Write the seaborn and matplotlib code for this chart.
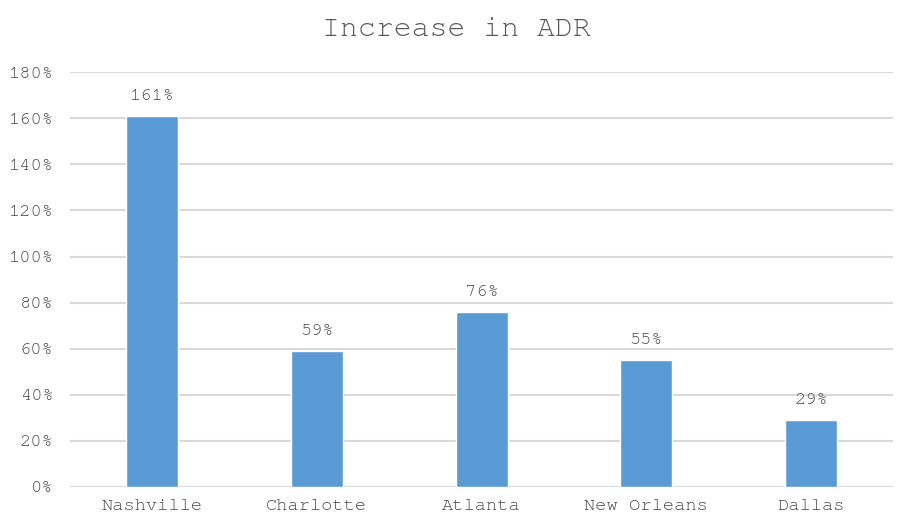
import matplotlib
matplotlib.use("Agg")
import matplotlib.pyplot as plt
import seaborn as sns
import pandas as pd
from matplotlib.ticker import MultipleLocator, FuncFormatter

cities = ["Nashville", "Charlotte", "Atlanta", "New Orleans", "Dallas"]
increase = [161, 59, 76, 55, 29]
title = "Increase in ADR"

df = pd.DataFrame({"city": cities, "increase": increase})

sns.set_theme(style="white")
plt.rcParams["font.family"] = ["FreeMono", "Liberation Mono", "DejaVu Sans Mono"]
text_color = "#474747"

fig = plt.figure(figsize=(9.03, 5.31), dpi=100)
ax = fig.add_axes([0.0775, 0.0829, 0.9115, 0.7811])

sns.barplot(data=df, x="city", y="increase", color="#5B9BD5", width=0.316,
            saturation=1, ax=ax, zorder=3)

ax.set_ylim(0, 180)
ax.set_xlim(-0.5, len(cities) - 0.5)
ax.yaxis.set_major_locator(MultipleLocator(20))
ax.yaxis.set_major_formatter(FuncFormatter(lambda v, p: f"{int(round(v))}%"))
ax.grid(axis="y", color="#D9D9D9", linewidth=1.5, zorder=0)
ax.set_axisbelow(True)
for s in ax.spines.values():
    s.set_visible(False)
ax.set_xlabel("")
ax.set_ylabel("")
ax.tick_params(axis="both", length=0, labelsize=13.5, labelcolor=text_color)
ax.tick_params(axis="y", pad=12)
ax.tick_params(axis="x", pad=9)

for i, v in enumerate(increase):
    ax.annotate(f"{v}%", xy=(i, v), xytext=(0, 9.5), textcoords="offset points",
                ha="center", va="bottom", fontsize=13.5, color=text_color)

fig.text(0.505, 0.944, title, ha="center", va="center", fontsize=21.5, color="#595959")

fig.savefig("out.png", dpi=100)
